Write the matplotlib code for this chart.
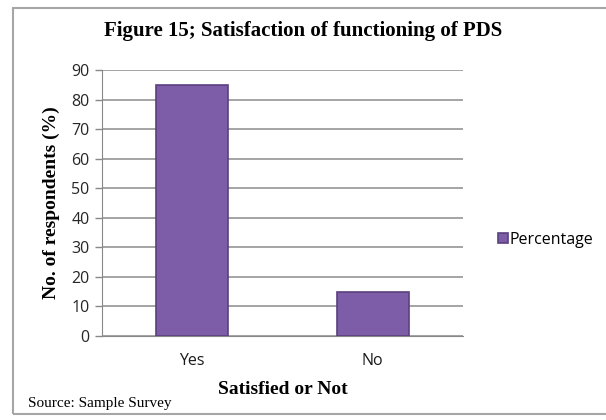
import matplotlib.pyplot as plt
from matplotlib.patches import Rectangle

categories = ["Yes", "No"]
percentage = [85, 15]
yticks = [0, 10, 20, 30, 40, 50, 60, 70, 80, 90]

W, H = 606, 420
fig = plt.figure(figsize=(W / 100, H / 100), dpi=100)

# outer frame of the chart area
fig.patches.append(Rectangle((13 / W, 1 - 414 / H), 1.2, 406 / H, transform=fig.transFigure,
                             fill=False, edgecolor="#a6a6a6", linewidth=1.5))

ax = fig.add_axes([102 / W, 1 - 336 / H, 361 / W, 266 / H])
bars = ax.bar(range(len(categories)), percentage, width=0.4, color="#7d5ca8",
              edgecolor="#5b417f", linewidth=1.2, label="Percentage", zorder=3)

ax.set_xlim(-0.5, 1.5)
ax.set_ylim(0, 90)
ax.set_yticks(yticks)
ax.set_yticklabels([str(t) for t in yticks], fontsize=11.5, color="#262626", family="Open Sans")
ax.set_xticks(range(len(categories)))
ax.set_xticklabels(categories, fontsize=11.5, color="#1a1a1a", family="Open Sans")
ax.tick_params(axis="x", length=0, pad=12)
ax.tick_params(axis="y", length=5, color="#888888", width=1, pad=4)
ax.grid(axis="y", color="#8c8c8c", linewidth=1.1, zorder=0)
for s in ["top", "right"]:
    ax.spines[s].set_visible(False)
ax.spines["left"].set_color("#888888")
ax.spines["bottom"].set_color("#888888")

ax.set_ylabel("No. of respondents (%)", family="Liberation Serif", fontweight="bold",
              fontsize=14, labelpad=8)
ax.set_xlabel("Satisfied or Not", family="Liberation Serif", fontweight="bold",
              fontsize=14, labelpad=9)

fig.text(303 / W, 1 - 31 / H, "Figure 15; Satisfaction of functioning of PDS",
         ha="center", va="center", family="Liberation Serif", fontweight="bold", fontsize=15)
fig.text(28 / W, 1 - 404 / H, "Source: Sample Survey", ha="left", va="center",
         family="Liberation Serif", fontsize=11)

fig.legend(handles=[bars], labels=["Percentage"], loc="center left",
           bbox_to_anchor=(484 / W, 1 - 240 / H), frameon=False, handlelength=0.6,
           handleheight=0.6, handletextpad=0.1, prop={"family": "Open Sans", "size": 11.5})

fig.savefig("out.png", dpi=100)
